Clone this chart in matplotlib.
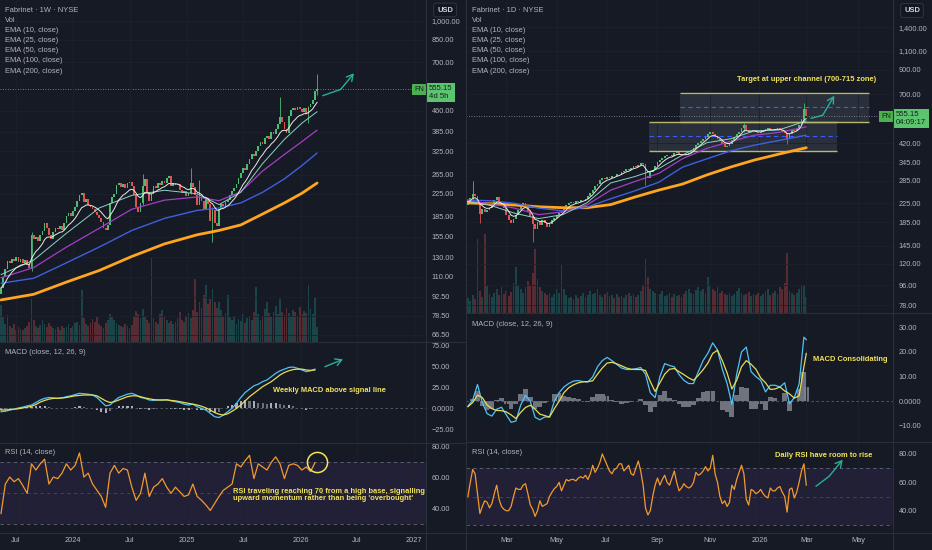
import numpy as np
import pandas as pd
import matplotlib
matplotlib.use("Agg")
import matplotlib.pyplot as plt
import matplotlib.transforms as mtransforms
from matplotlib.patches import Rectangle
from matplotlib.lines import Line2D
from matplotlib.ticker import NullLocator

plt.rcParams['font.family'] = ['Liberation Sans', 'DejaVu Sans']

W, H = 932, 550
BG = '#161a25'
GRID = '#1d212c'
SEP = '#2a2e39'
TXT = '#b2b5be'
UP = '#4cbb74'
DN = '#e0524f'
YEL = '#f2e35c'
TEAL = '#26b09b'
EMA_COLORS = {10: '#ecebe0', 25: '#8dd3c4', 50: '#a23fc4', 100: '#3f5fe0', 200: '#ffa61e'}
EMA_WIDTHS = {10: 0.7, 25: 0.7, 50: 0.9, 100: 1.0, 200: 2.0}
MACD_C = '#4fc3f7'
SIG_C = '#e8dc55'
RSI_C = '#f39a2b'
LAST = 555.15

# ---------------- weekly chart (Fabrinet 1W) ----------------
WK_START = '2023-05-15'
wk_first_open = 95
wk_close = [
    100, 110, 118, 126, 124, 128, 126, 130, 125, 128,
    124, 127, 122, 119, 158, 152, 155, 150, 157, 163,
    175, 168, 158, 152, 162, 168, 166, 170, 164, 175,
    185, 190, 186, 194, 200, 212, 222, 226, 210, 216,
    205, 200, 198, 192, 188, 182, 176, 168, 165, 172,
    208, 218, 225, 242, 246, 238, 244, 236, 246, 250,
    240, 222, 200, 192, 208, 240, 255, 228, 212, 225,
    240, 236, 248, 243, 252, 246, 258, 262, 240, 248,
    242, 245, 232, 226, 230, 220, 226, 246, 238, 222,
    205, 218, 212, 196, 215, 206, 178, 195, 175, 170,
    198, 206, 202, 210, 214, 222, 230, 236, 245, 258,
    270, 282, 276, 290, 305, 318, 312, 325, 340, 352,
    345, 365, 372, 360, 385, 378, 395, 410, 435, 420,
    395, 380, 440, 462, 470, 462, 478, 468, 455, 470,
    448, 475, 490, 505, 545, 555.15]
wk_volume = [
    3.7, 2.5, 1.8, 2.7, 1.6, 1.4, 1.8, 1.2, 1.5, 1.3,
    1.2, 1.4, 1.6, 2.0, 4.3, 2.2, 1.6, 1.4, 1.7, 2.2,
    1.8, 1.5, 1.9, 1.6, 1.4, 1.3, 1.5, 1.2, 1.6, 1.4,
    1.5, 1.8, 1.4, 1.6, 1.9, 2.0, 1.7, 5.2, 2.4, 1.8,
    1.6, 1.9, 2.3, 2.0, 2.5, 1.8, 1.6, 1.4, 1.9, 2.2,
    2.8, 2.5, 2.2, 1.9, 1.7, 1.6, 1.5, 1.8, 1.6, 1.4,
    1.7, 2.6, 3.1, 2.8, 2.4, 3.3, 2.6, 2.2, 1.9, 8.4,
    2.4, 2.0, 1.8, 2.8, 3.2, 2.6, 2.2, 1.9, 2.1, 1.8,
    2.0, 2.4, 3.0, 2.2, 2.0, 2.6, 2.9, 2.4, 3.2, 6.3,
    3.0, 4.0, 3.4, 4.7, 5.7, 3.8, 4.3, 5.3, 4.0, 3.4,
    4.0, 3.2, 2.6, 2.9, 4.7, 2.5, 2.2, 2.6, 1.8, 2.3,
    2.1, 2.8, 1.9, 2.4, 2.6, 2.2, 3.0, 5.5, 2.8, 2.2,
    2.6, 3.3, 4.0, 2.9, 2.5, 3.0, 3.6, 2.8, 4.3, 3.0,
    2.7, 3.4, 2.9, 2.6, 3.2, 3.0, 2.5, 3.5, 2.8, 3.1,
    2.9, 5.7, 3.3, 2.8, 4.5, 1.5]
wk_wicks = {145: (635, 528), 141: (480, 415), 128: (520, 420), 97: (200, 148),
            91: (253, 212), 87: (280, 224), 65: (268, 205), 14: (162, 116)}
wk_ema_idx = [0, 15, 30, 45, 60, 75, 90, 100, 110, 120, 130, 138, 145]
wk_emas = {
    200: [90, 94.5, 105, 116, 131, 146, 158, 164, 172, 189, 208, 226, 247],
    100: [104, 108.5, 124, 142, 164, 182, 195, 199, 208, 228, 256, 287, 320],
    50: [109, 119, 142, 167, 197, 213, 219, 212, 229, 274, 316, 353, 390],
    25: [112, 127, 160, 199, 222, 232, 225, 205, 228, 292, 360, 414, 457],
}
WK_OSC_STEP = 2
wk_macd = [-4, -3.5, -2, -1, 0.5, 1.5, 3, 4, 7, 10, 12, 13, 12.5, 12, 12.5, 14, 15, 16.5,
           18, 17.5, 17, 16, 13, 8, 3, 4, 9, 13, 15, 17, 18, 16, 13, 12, 10, 9.5, 10, 10,
           10.5, 9, 8, 7, 5, 4, 5, 2, 0, -2, -6, -10, -11, -8, -4, 0, 6, 13, 19, 23, 27,
           29, 32, 34, 38, 42, 45, 47, 49, 49.5, 48, 46, 44, 45, 47]
wk_signal = [-2, -2, -1.5, -1, -0.5, 0.5, 1.5, 2.5, 4.5, 7.5, 9.5, 11, 12, 12, 12.5, 13, 14,
             15, 15.5, 16, 16, 16, 15, 12, 9, 7, 8, 10, 12, 14, 15, 15, 14, 12.5, 11.5, 10.5,
             10, 10, 10, 9.5, 9, 8, 7, 6, 5, 4, 2.5, 0.5, -2, -5, -7, -8, -6.5, -3.5, 0, 4,
             9, 14, 18, 22, 26, 29, 32, 36, 40, 43, 45, 46.5, 47, 47, 46, 45.5, 46]
wk_rsi = [37, 56, 60.5, 57.5, 59.5, 55, 50, 69, 65, 69, 72, 56, 60.5, 59.5, 63, 69, 65, 68,
          76, 60.5, 63, 56, 52, 48, 41, 63, 68, 63, 66, 65, 54, 45.5, 50, 63, 48, 54, 56,
          59.5, 54, 50, 54, 51, 48, 49, 56, 48, 45.5, 42.5, 39, 43.5, 48, 52, 54, 56, 69,
          67, 71, 74.5, 59.5, 69, 67, 65, 70, 73.5, 69, 59.5, 68, 69, 68, 65, 67, 64, 69.7]
wk_xticks = [('2023-07-01', 'Jul'), ('2024-01-01', '2024'), ('2024-07-01', 'Jul'),
             ('2025-01-01', '2025'), ('2025-07-01', 'Jul'), ('2026-01-01', '2026'),
             ('2026-07-01', 'Jul'), ('2027-01-01', '2027')]
# 580.00 sits under the last-price tag in the reference, so it is left out
wk_price_ticks = [66.5, 78.5, 92.5, 110, 130, 155, 185, 225, 265, 325, 385, 460, 700, 850, 1000]
wk_macd_ticks = [-25, 0, 25, 50, 75]

# ---------------- daily chart (Fabrinet 1D) ----------------
DY_START = '2025-01-13'
NYSE_HOLIDAYS = ['2025-01-20', '2025-02-17', '2025-04-18', '2025-05-26', '2025-06-19',
                 '2025-07-04', '2025-09-01', '2025-11-27', '2025-12-25', '2026-01-01',
                 '2026-01-19', '2026-02-16', '2026-04-03']
DY_FIRST, DY_STEP = 1, 2
dy_first_open = 222
dy_close = [
    228, 238, 248, 242, 225, 202, 212, 206, 210, 215,
    222, 232, 240, 228, 220, 215, 200, 190, 184, 192,
    200, 210, 218, 226, 220, 208, 198, 182, 172, 186,
    180, 190, 184, 176, 182, 190, 194, 200, 204, 208,
    214, 222, 226, 229, 226, 230, 228, 232, 234, 236,
    242, 250, 258, 268, 276, 286, 294, 290, 295, 292,
    300, 298, 306, 304, 312, 316, 320, 318, 326, 332,
    328, 336, 342, 338, 300, 292, 312, 318, 330, 344,
    352, 362, 366, 370, 372, 368, 378, 382, 376, 372,
    370, 374, 378, 388, 400, 414, 422, 432, 440, 448,
    460, 472, 462, 452, 440, 428, 418, 402, 410, 418,
    436, 446, 460, 472, 490, 505, 482, 470, 478, 482,
    470, 466, 474, 480, 486, 492, 484, 480, 486, 490,
    484, 476, 465, 440, 462, 480, 478, 488, 505, 540,
    598, 555.15]
dy_volume = [
    1.5, 1.2, 1.8, 1.4, 7.3, 2.2, 1.6, 7.8, 2.8, 1.9,
    1.6, 2.0, 2.4, 1.8, 2.6, 1.9, 2.2, 1.7, 2.1, 3.0,
    4.6, 2.8, 2.4, 2.0, 2.6, 3.2, 2.8, 4.0, 6.3, 3.4,
    2.6, 2.2, 2.0, 1.8, 2.0, 1.6, 1.9, 2.4, 2.0, 4.8,
    2.4, 1.8, 1.5, 1.6, 1.4, 1.8, 1.5, 1.7, 2.0, 1.6,
    1.8, 2.2, 1.9, 2.0, 2.4, 1.8, 1.6, 1.9, 2.1, 1.7,
    1.8, 1.5, 1.9, 1.6, 1.7, 1.5, 1.8, 2.0, 1.7, 1.9,
    1.6, 1.8, 2.2, 2.8, 5.3, 3.6, 2.4, 2.2, 2.0, 1.8,
    1.9, 2.2, 1.7, 1.8, 2.0, 1.6, 1.9, 1.7, 1.8, 1.6,
    1.9, 2.2, 2.4, 2.0, 1.9, 2.3, 2.6, 2.2, 2.4, 2.0,
    3.6, 2.8, 2.4, 2.2, 2.6, 2.0, 2.2, 1.9, 1.8, 2.0,
    1.7, 1.9, 2.2, 2.5, 2.0, 1.8, 1.9, 2.1, 1.7, 1.9,
    1.8, 2.0, 1.7, 1.9, 2.2, 2.4, 1.8, 2.0, 2.2, 1.9,
    2.6, 2.4, 3.0, 5.9, 2.2, 2.0, 1.8, 2.0, 2.4, 2.8,
    2.8, 1.6]
dy_wicks = {2: (283, 230), 5: (215, 183), 27: (195, 151), 74: (310, 272),
            115: (520, 470), 133: (462, 418), 140: (636, 530)}
dy_ema_idx = [0, 20, 40, 60, 80, 100, 120, 140, 160, 180, 200, 220, 240, 260, 283]
dy_emas = {
    200: [226, 224, 221, 217, 215, 215, 222, 240, 258, 275, 302, 328, 353, 375, 401],
    100: [233, 231, 225, 214, 208, 216, 236, 256, 280, 328, 357, 388, 412, 432, 457],
    50: [232, 224, 214, 200, 206, 221, 258, 282, 307, 358, 398, 428, 457, 470, 498],
    25: [230, 220, 203, 192, 200, 226, 278, 297, 323, 372, 422, 440, 478, 482, 530],
}
dy_macd_idx = list(range(1, 282, 4)) + [283]
dy_macd = [-2, 0.5, 6.8, -0.5, -5, -6, -3.2, -2.4, -5.5, -8.5, -8, -1.5, 2.4, 0, -6.5, -7.5,
           -6.4, -6.3, 0, 3.5, 5.8, 7.2, 8.2, 8.4, 8, 7.8, 9.9, 14, 16.5, 17.8, 16.5, 15,
           13.5, 12.9, 12.9, 13.2, 13.7, 11, 3.5, 1.5, 10, 15.3, 14.5, 14, 10.8, 8.5, 7.2,
           7.2, 12, 16.5, 19.5, 23.7, 20.8, 13, 7.2, -1.2, 11, 20, 22, 12, 10, 8.5, 3.8,
           6.5, 6.5, 5.8, 7.5, -1, 1.5, 7, 26, 25]
dy_signal = [-2.2, -0.5, 2.5, 1.5, -1.5, -3, -3.7, -3.8, -4.3, -5.5, -7, -4.5, -2.5, -1.6,
             -3.2, -5.2, -5.8, -6.4, -3, 0, 3.5, 5.5, 6.7, 7.5, 7.9, 8, 8.3, 11, 13.5, 15.5,
             15.8, 15.2, 14.4, 13.5, 13, 12.9, 12.9, 12.5, 8, 4, 7.5, 11, 13, 13.3, 12,
             10.8, 9.5, 8.5, 10.5, 12.8, 15.5, 19.4, 20.7, 16.5, 11.5, 5, 8.5, 14, 16.5,
             15, 13, 9.5, 7.5, 4.8, 5, 5.8, 4.2, 3, 1.3, 2.2, 14, 19.4]
dy_rsi = [
    50, 60, 69, 66, 52, 38, 43, 47, 46, 42,
    45, 52, 58, 48, 43, 41, 40, 40, 43, 50,
    56, 55, 55, 58, 59, 52, 44, 41, 36, 40,
    47, 43, 44, 45, 50, 53, 55.5, 57, 60, 54,
    58, 62, 61, 62, 62, 61, 63, 64, 63, 65,
    62, 66, 72, 67, 70, 74, 80, 76, 72, 68,
    66, 69, 70, 73, 73, 68, 70, 72, 66, 65,
    70, 75, 68, 58, 42, 37, 40, 50, 58, 63,
    58, 62, 65, 60, 58, 63, 68, 60, 54, 56,
    59, 57, 56, 57, 60, 67, 65, 66, 68, 71,
    68, 70, 79, 66, 60, 50, 45, 47, 43, 46,
    58, 55, 62, 67, 72, 66, 48, 44, 55, 54,
    52, 53, 55, 52, 50, 49, 56, 54, 54, 56,
    57, 53, 50, 39, 55, 56, 49, 53, 60, 68,
    73, 58]
dy_xticks = [('2025-03-01', 'Mar'), ('2025-05-01', 'May'), ('2025-07-01', 'Jul'),
             ('2025-09-01', 'Sep'), ('2025-11-01', 'Nov'), ('2026-01-01', '2026'),
             ('2026-03-01', 'Mar'), ('2026-05-01', 'May')]
dy_price_ticks = [78, 96, 120, 145, 185, 225, 285, 345, 420, 700, 900, 1100, 1400]
dy_macd_ticks = [-10, 0, 10, 20, 30]
# channel drawings: (first bar, last bar, low, high, midline)
dy_channels = [(152, 309, 387, 525, 451), (178, 335, 522, 709, 611)]

fig = plt.figure(figsize=(W / 100, H / 100), dpi=100, facecolor=BG)


def px_axes(x0, y0, x1, y1):
    ax = fig.add_axes([x0 / W, 1 - y1 / H, (x1 - x0) / W, (y1 - y0) / H])
    ax.set_facecolor('none')
    for s in ax.spines.values():
        s.set_visible(False)
    ax.yaxis.tick_right()
    ax.tick_params(axis='both', length=0, colors=TXT, labelsize=5.3, pad=4)
    ax.tick_params(axis='x', labelbottom=False)
    return ax


def price_pane(box, xlim, ylim, yticks, xt, x, close, first_open, wicks, volume, vol_top,
               width, ema_x, emas, ema10_span):
    close = np.asarray(close, float)
    opens = np.r_[first_open, close[:-1]]
    colors = np.where(close >= opens, UP, DN)

    vax = px_axes(*box)
    vax.axis('off')
    vax.bar(x, volume, width, color=np.where(close >= opens, '#26a69a', '#ef5350'),
            alpha=0.3, linewidth=0)
    vax.set_xlim(xlim)
    vax.set_ylim(0, vol_top)

    ax = px_axes(*box)
    ax.set_yscale('log')
    ax.set_xlim(xlim)
    ax.set_ylim(ylim)
    ax.set_yticks(yticks)
    ax.set_yticklabels([f'{v:,.2f}' for v in yticks])
    ax.yaxis.set_minor_locator(NullLocator())
    ax.set_xticks(xt)
    ax.grid(True, color=GRID, lw=0.6)

    lo = np.minimum(opens, close)
    hi = np.maximum(opens, close)
    ax.bar(x, np.maximum(hi - lo, lo * 0.006), width, bottom=lo, color=colors,
           linewidth=0, zorder=3)
    for k, (h, l) in wicks.items():
        ax.vlines(x[k], l, h, color=colors[k], lw=0.6, zorder=2.9)

    ema10 = pd.Series(close).ewm(span=ema10_span, adjust=False).mean()
    for n, vals in emas.items():
        ax.plot(ema_x, vals, color=EMA_COLORS[n], lw=EMA_WIDTHS[n], zorder=4,
                solid_capstyle='round')
    ax.plot(x, ema10, color=EMA_COLORS[10], lw=EMA_WIDTHS[10], zorder=4)
    ax.axhline(LAST, color='#9598a1', lw=0.6, ls=(0, (1, 2)), zorder=1)
    return ax


def macd_pane(box, xlim, ylim, yticks, xt, x, macd, signal, hist_w, two_tone):
    ax = px_axes(*box)
    macd = np.asarray(macd, float)
    signal = np.asarray(signal, float)
    hist = macd - signal
    if two_tone:
        grow = np.r_[True, np.diff(np.abs(hist)) >= 0]
        colors = np.where(grow, '#c4c7ce', '#7d808a')
    else:
        colors = '#80838d'
    ax.bar(x, hist, hist_w, color=colors, alpha=0.85, lw=0)
    ax.axhline(0, color='#5d606b', lw=0.6, ls=(0, (3, 3)))
    ax.plot(x, macd, color=MACD_C, lw=0.9)
    ax.plot(x, signal, color=SIG_C, lw=0.9)
    ax.set_xlim(xlim)
    ax.set_ylim(ylim)
    ax.set_yticks(yticks)
    ax.set_yticklabels(['0.0000' if v == 0 else f'{v:.2f}'.replace('-', '\u2212') for v in yticks])
    ax.set_xticks(xt)
    ax.grid(True, axis='x', color=GRID, lw=0.6)
    return ax


def rsi_pane(box, xlim, ylim, xt, xl, x, rsi):
    ax = px_axes(*box)
    ax.axhspan(30, 70, color='#7e57c2', alpha=0.11, lw=0)
    for lvl, a in ((30, 0.8), (50, 0.45), (70, 0.8)):
        ax.axhline(lvl, color='#787b86', lw=0.6, ls=(0, (4, 4)), alpha=a)
    ax.plot(x, rsi, color=RSI_C, lw=0.9)
    ax.set_xlim(xlim)
    ax.set_ylim(ylim)
    ax.set_yticks([40, 60, 80])
    ax.set_yticklabels(['40.00', '60.00', '80.00'])
    ax.set_xticks(xt)
    ax.set_xticklabels(xl)
    ax.tick_params(axis='x', labelbottom=True, pad=3, labelsize=5.3)
    ax.grid(True, axis='x', color=GRID, lw=0.6)
    return ax


def price_tag(ax, lines, dy):
    tr = mtransforms.blended_transform_factory(ax.transAxes, ax.transData)
    ax.annotate('FN', xy=(1, LAST), xycoords=tr, xytext=(-2, 0), textcoords='offset pixels',
                ha='right', va='center', fontsize=5.3, color='#10261a', zorder=6,
                bbox=dict(boxstyle='square,pad=0.25', fc='#4caf50', ec='none'))
    ax.annotate(lines, xy=(1, LAST), xycoords=tr, xytext=(3, dy), textcoords='offset pixels',
                ha='left', va='top', fontsize=5.6, color='#10261a', linespacing=1.15,
                zorder=6, annotation_clip=False,
                bbox=dict(boxstyle='square,pad=0.3', fc='#5cc46e', ec='none'))


def arrow(ax, xs, ys):
    ax.plot(xs[:-1], ys[:-1], color=TEAL, lw=1.0, clip_on=False, solid_capstyle='round')
    ax.annotate('', xy=(xs[-1], ys[-1]), xytext=(xs[-2], ys[-2]), annotation_clip=False,
                arrowprops=dict(arrowstyle='->,head_length=0.45,head_width=0.25', color=TEAL,
                                lw=1.0, shrinkA=0, shrinkB=0))


def legend(x, y0, title):
    rows = [title, 'Vol'] + [f'EMA ({n}, close)' for n in (10, 25, 50, 100, 200)]
    for k, r in enumerate(rows):
        fig.text(x / W, 1 - (y0 + 10.2 * k) / H, r, fontsize=5.4, color=TXT, va='center')


def label(x, y, s):
    fig.text(x / W, 1 - y / H, s, fontsize=5.4, color=TXT, va='center')


def usd_box(x, y):
    fig.text(x / W, 1 - y / H, 'USD', fontsize=5.4, color='#d1d4dc', va='center', ha='center',
             fontweight='bold',
             bbox=dict(boxstyle='round,pad=0.45,rounding_size=0.3', fc='#131722', ec='#363a45', lw=0.6))


def sep(x0, y0, x1, y1):
    fig.add_artist(Line2D([x0 / W, x1 / W], [1 - y0 / H, 1 - y1 / H], color=SEP, lw=0.8))


# ---------------- weekly panel ----------------
wk_x = np.arange(len(wk_close))
wk_tick_pos = [(pd.Timestamp(d) - pd.Timestamp(WK_START)).days / 7 for d, _ in wk_xticks]
wk_tick_lab = [l for _, l in wk_xticks]
wk_xlim = (-0.46, 194.95)
wk_osc_x = wk_x[::WK_OSC_STEP][:len(wk_macd)]

ax_w = price_pane((0, 0, 426, 342), wk_xlim, (62.6, 1199), wk_price_ticks, wk_tick_pos,
                  wk_x, wk_close, wk_first_open, wk_wicks, wk_volume, 34, 0.8,
                  wk_ema_idx, wk_emas, 10)
price_tag(ax_w, '555.15\n4d 5h', 4)
arrow(ax_w, [147.6, 155.8, 161.9], [525, 554, 637])

mw = macd_pane((0, 342, 426, 443), wk_xlim, (-41.5, 79.5), wk_macd_ticks, wk_tick_pos,
               wk_osc_x, wk_macd, wk_signal, 1.0, True)
mw.text(124.6, 21, 'Weekly MACD above signal line', color=YEL, fontsize=5.4,
        fontweight='bold', va='center')
arrow(mw, [148.6, 156.9], [49.9, 58.8])

rw = rsi_pane((0, 443, 426, 533), wk_xlim, (24.5, 82.4), wk_tick_pos, wk_tick_lab,
              wk_osc_x, wk_rsi)
rw.plot([145], [69.9], 'o', ms=14.5, mfc='none', mec=YEL, mew=1.1)
rw.text(106.4, 49.2, "RSI traveling reaching 70 from a high base, signalling\n"
        "upward momentum rather than being 'overbought'", color=YEL, fontsize=5.4,
        fontweight='bold', va='center', linespacing=1.0, clip_on=True)

# ---------------- daily panel ----------------
dy_x = DY_FIRST + DY_STEP * np.arange(len(dy_close))
dy_tick_pos = [int(np.busday_count(DY_START, d, holidays=NYSE_HOLIDAYS)) for d, _ in dy_xticks]
dy_tick_lab = [l for _, l in dy_xticks]
dy_xlim = (-0.58, 355.25)

ax_d = price_pane((466, 0, 893, 313), dy_xlim, (72, 1860), dy_price_ticks, dy_tick_pos,
                  dy_x, dy_close, dy_first_open, dy_wicks, dy_volume, 31, 1.5,
                  dy_ema_idx, dy_emas, 10 / DY_STEP)
for t0, t1, lo, hi, mid in dy_channels:
    ax_d.add_patch(Rectangle((t0, lo), t1 - t0, hi - lo, fc='#8ea3b5', alpha=0.16, ec='none',
                             zorder=1.5))
    ax_d.hlines([lo, hi], t0, t1, color='#b9b96c', lw=1.0, zorder=1.6)
    ax_d.hlines(mid, t0, t1, color='#3d5afe', lw=0.8, ls=(0, (4, 3)), zorder=1.6)
ax_d.text(225, 818, 'Target at upper channel (700-715 zone)', color=YEL, fontsize=5.4,
          fontweight='bold', va='center')
price_tag(ax_d, '555.15\n04:09:17', 5)
arrow(ax_d, [287, 296.7, 306.3], [544, 562, 688])

md = macd_pane((466, 313, 893, 442), dy_xlim, (-16.5, 35.8), dy_macd_ticks, dy_tick_pos,
               dy_macd_idx, dy_macd, dy_signal, 4.0, False)
md.text(288.8, 17.1, 'MACD Consolidating', color=YEL, fontsize=5.4, fontweight='bold',
        va='center')

rd = rsi_pane((466, 442, 893, 533), dy_xlim, (24.3, 88.4), dy_tick_pos, dy_tick_lab,
              dy_x, dy_rsi)
rd.text(257.2, 78.9, 'Daily RSI have room to rise', color=YEL, fontsize=5.4,
        fontweight='bold', va='center')
arrow(rd, [291, 302, 313.3], [57.2, 64.2, 75.9])

# ---------------- chrome ----------------
legend(5, 10, 'Fabrinet \u00b7 1W \u00b7 NYSE')
legend(472, 10, 'Fabrinet \u00b7 1D \u00b7 NYSE')
label(5, 352.3, 'MACD (close, 12, 26, 9)')
label(5, 452.7, 'RSI (14, close)')
label(472, 324.7, 'MACD (close, 12, 26, 9)')
label(472, 453, 'RSI (14, close)')
usd_box(445, 10)
usd_box(912, 10.5)

sep(426, 0, 426, 550)
sep(466, 0, 466, 550)
sep(893, 0, 893, 550)
sep(0, 342, 466, 342)
sep(0, 443, 466, 443)
sep(0, 533, 466, 533)
sep(466, 313, 932, 313)
sep(466, 442, 932, 442)
sep(466, 533, 932, 533)

fig.savefig('out.png', dpi=100, facecolor=BG)
